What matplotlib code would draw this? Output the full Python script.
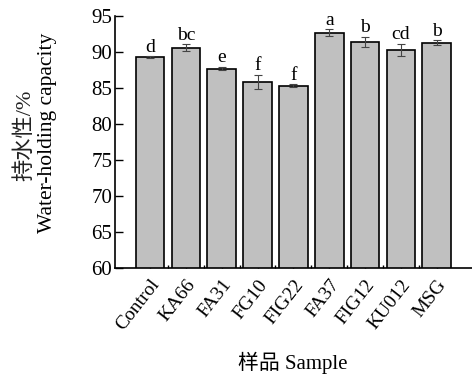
import matplotlib
matplotlib.use("Agg")
import matplotlib.pyplot as plt
import numpy as np

categories = ["Control", "KA66", "FA31", "FG10", "FIG22", "FA37", "FIG12", "KU012", "MSG"]
values = [89.3, 90.6, 87.7, 85.8, 85.3, 92.7, 91.4, 90.3, 91.3]
errors = [0.1, 0.45, 0.25, 1.0, 0.2, 0.45, 0.7, 0.85, 0.3]
letters = ["d", "bc", "e", "f", "f", "a", "b", "cd", "b"]
yticks = [60, 65, 70, 75, 80, 85, 90, 95]

fam = ["Liberation Serif", "Noto Sans CJK SC"]
plt.rcParams['font.family'] = fam

fig = plt.figure(figsize=(4.72, 3.75), dpi=100)
ax = fig.add_axes([0.2436, 0.2853, 0.756, 0.672])

x = np.arange(len(categories))
ax.bar(x, values, width=0.8, color="#c0c0c0", edgecolor="black", linewidth=1.2, zorder=2)
ax.errorbar(x, values, yerr=errors, fmt="none", ecolor="#444444", elinewidth=0.8,
            capsize=3, capthick=0.8, zorder=3)
for xi, v, e, l in zip(x, values, errors, letters):
    ax.text(xi, v + e + 0.1, l, ha="center", va="bottom", fontsize=14)

ax.set_ylim(60, 95)
ax.set_xlim(-0.98, 8.98)
ax.set_yticks(yticks)
ax.set_xticks(x)
ax.set_xticklabels(categories, rotation=52, ha="right", rotation_mode="anchor", fontsize=14)
ax.set_xticks(x[:-1] + 0.5, minor=True)
ax.tick_params(axis="x", which="major", direction="in", length=5, width=1, pad=6)
ax.tick_params(axis="x", which="minor", direction="in", length=2, width=1)
ax.tick_params(axis="y", direction="in", length=6, width=1, labelsize=15, pad=2)
for lab in ax.get_xticklabels():
    lab.set_x(lab.get_position()[0])
ax.spines["top"].set_visible(False)
ax.spines["right"].set_visible(False)
ax.spines["left"].set_linewidth(1.2)
ax.spines["bottom"].set_linewidth(1.2)

fig.text(0.052, 0.64, "持水性/%", rotation=90, ha="center", va="center", fontsize=16, color="#222222")
fig.text(0.10, 0.645, "Water-holding capacity", rotation=90, ha="center", va="center", fontsize=15.5)
fig.text(0.621, 0.032, "样品 Sample", ha="center", va="center", fontsize=15)

fig.savefig("out.png", dpi=100)
